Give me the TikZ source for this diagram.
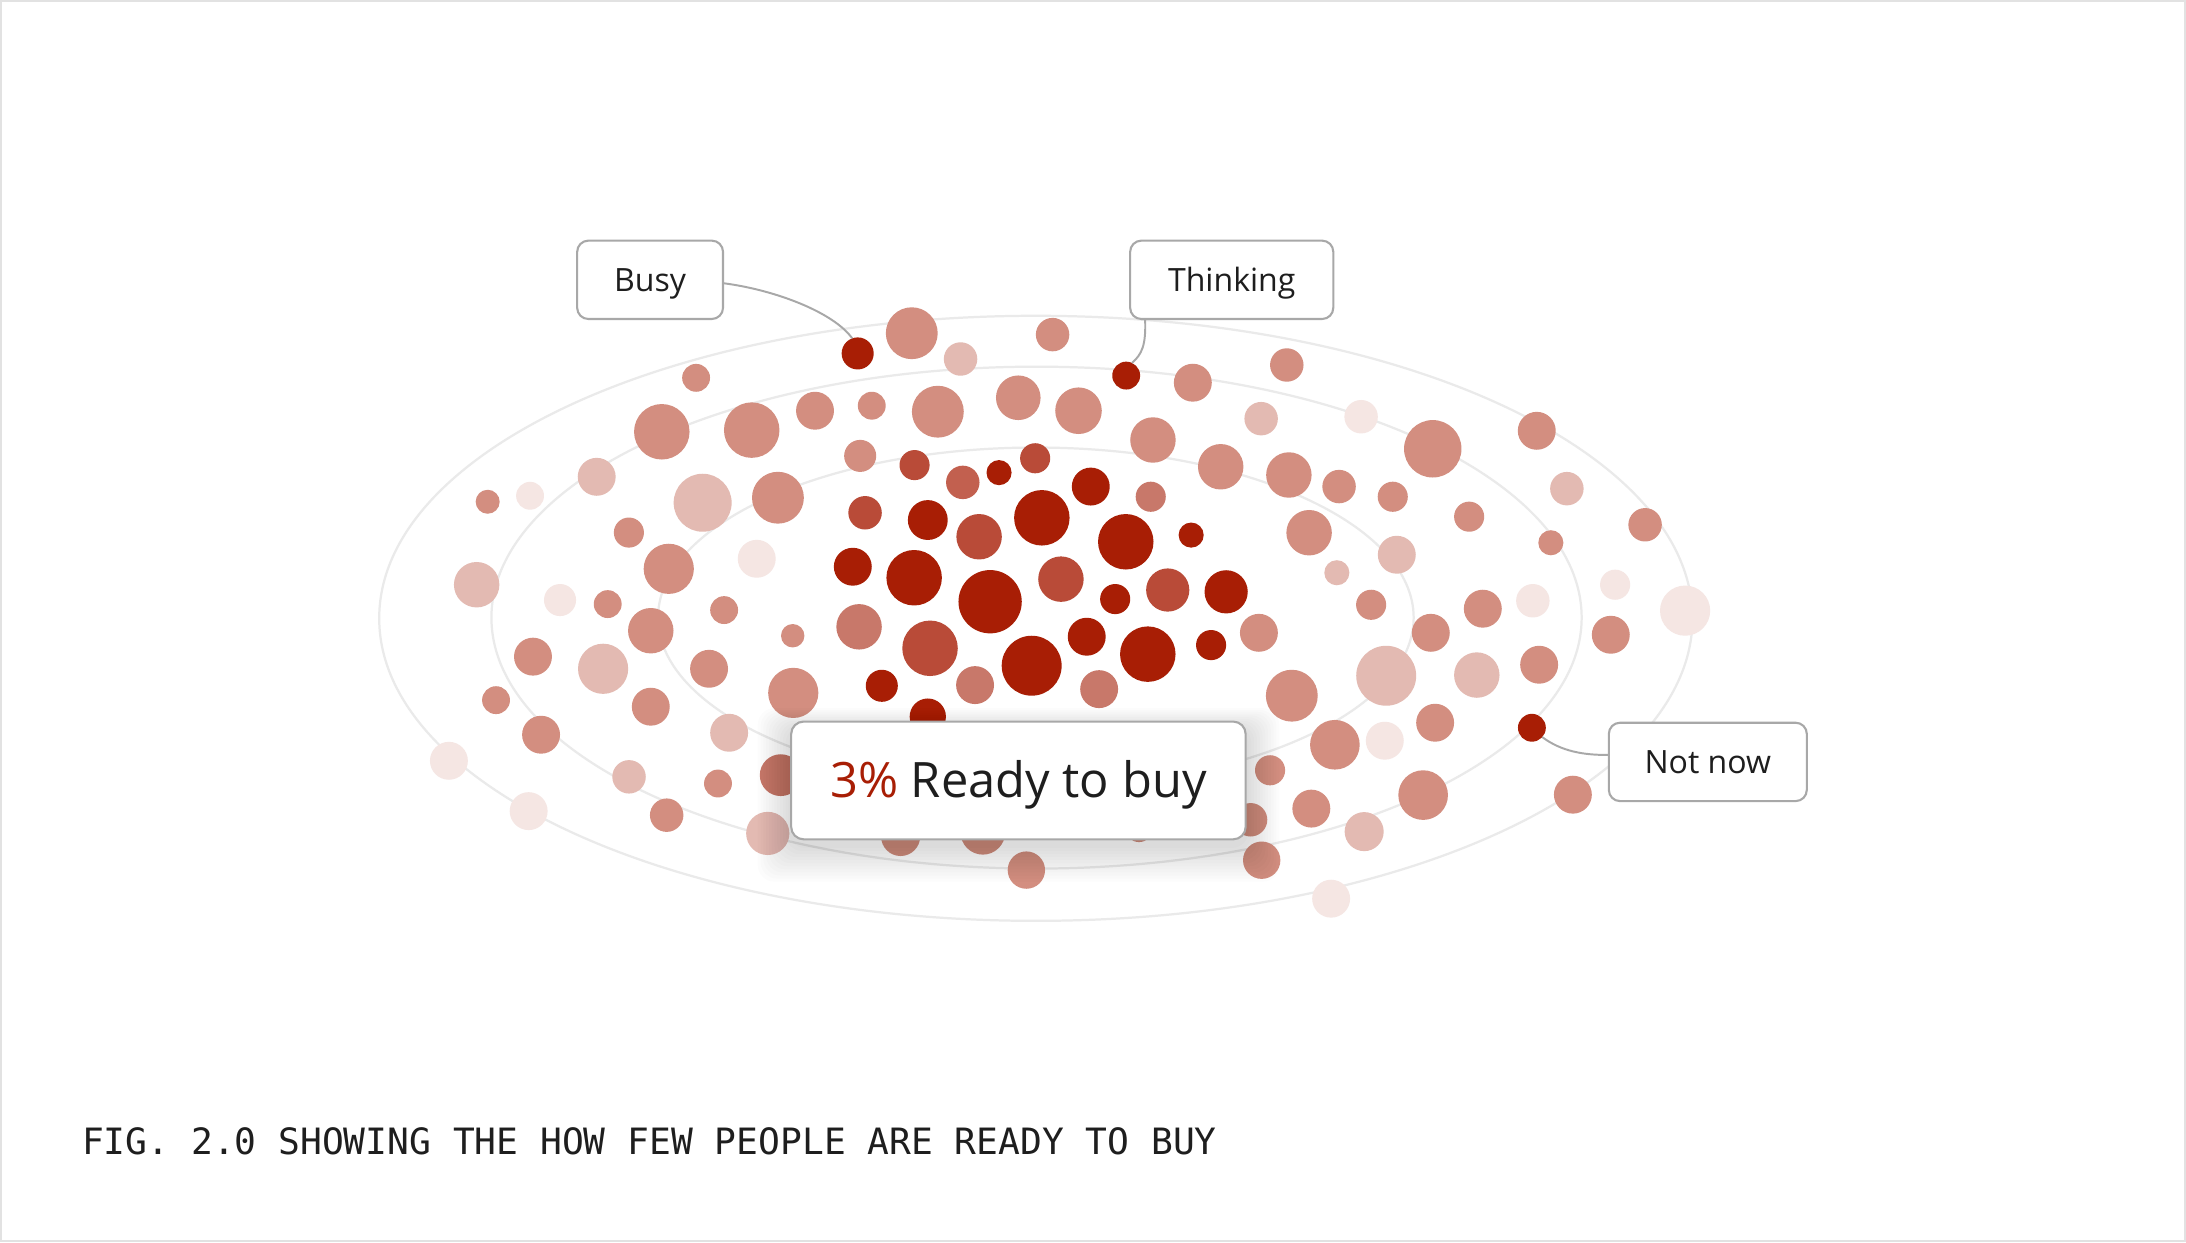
\documentclass[tikz,border=0pt]{standalone}
\usepackage{fontspec}
\newfontfamily\lblfont{Open Sans}
\newfontfamily\capfont{DejaVu Sans Mono}
\usetikzlibrary{calc}
\definecolor{cD}{HTML}{A81E05}
\definecolor{cM}{HTML}{B94B38}
\definecolor{cK}{HTML}{C2604F}
\definecolor{cN}{HTML}{C8786A}
\definecolor{cS}{HTML}{D38E80}
\definecolor{cL}{HTML}{E3BAB2}
\definecolor{cV}{HTML}{F5E6E3}
\definecolor{ring}{HTML}{EAEAEA}
\definecolor{edgegray}{HTML}{A8A8A8}
\definecolor{ink}{HTML}{1E1E1E}
\definecolor{framegray}{HTML}{E2E2E2}
\begin{document}
\begin{tikzpicture}[x=0.5pt,y=-0.5pt,
  ringline/.style={draw=ring,line width=0.8pt},
  labelbox/.style={draw=edgegray,line width=0.75pt,fill=white,rounded corners=4pt,
    minimum height=28.1pt,inner sep=0pt,font=\lblfont\fontsize{11.5}{13}\selectfont,
    text=ink,text height=8.2pt,text depth=0pt},
  mainbox/.style={draw=edgegray,line width=0.75pt,fill=white,rounded corners=4.5pt,
    minimum width=163pt,minimum height=42.25pt,inner sep=0pt,
    font=\lblfont\fontsize{17.5}{20}\selectfont,text=ink,text height=12.5pt,text depth=0pt},
  dotnode/.style={circle,inner sep=0pt,outer sep=0pt,fill=cD},
  connector/.style={draw=edgegray,line width=0.7pt}]
\useasboundingbox (0,0) rectangle (1568,891);
\fill[white] (0,0) rectangle (1568,891);
\draw[framegray,line width=0.8pt] (0.8,0.8) rectangle (1567.2,890.2);
% rings
\draw[ringline] (743,443.5) ellipse [x radius=471, y radius=217];
\draw[ringline] (743.5,443) ellipse [x radius=391, y radius=180];
\draw[ringline] (743,443) ellipse [x radius=271, y radius=122];
% dots
\foreach \px/\py/\pr/\pc in {
654/239/18.6/S, 689/257.5/12/L, 755/240/12/S, 855.6/274.5/13.6/S, 923/261.8/12/S,
499.3/271/10/S, 474.7/309.7/19.9/S, 539.2/308.5/19.9/S, 584.6/294.6/13.6/S, 625.3/291/10/S,
672.7/295.3/18.6/S, 730.4/285.3/16/S, 773.6/294.6/16.7/S, 827/315.6/16.3/S, 904.6/300.3/12/L,
976.3/298.9/12/V, 1027.7/321.9/20.6/S, 1102.3/309/13.6/S, 1123.9/350.5/12/L, 1180/376.4/12/S,
1112.4/389.3/9/S, 1053.8/370.6/10.8/S, 999/356.3/10.8/S, 960.5/349/12/S, 924.5/340.7/16.3/S,
875.6/334.8/16.3/S, 825.4/356.3/10.8/N, 854.4/383.8/9/D, 807.5/388.6/19.9/D, 782.4/349/13.6/D,
742.5/328.7/10.8/M, 716.6/339/9/D, 690.6/346/12/K, 656/333.6/10.8/M, 617/327/11.5/S,
620.5/367.8/12/M, 665.5/373/14.3/D, 702.3/385/16.3/M, 747.3/371.4/19.9/D, 611.7/406.5/13.6/D,
655.7/414.4/19.9/D, 710.2/431.6/22.7/D, 761/415.4/16.3/M, 799.9/429.7/10.8/D, 837.6/423.2/15.5/M,
879.5/424.5/15.5/D, 568.6/456/8.4/S, 616.2/449.6/16.3/N, 667.1/465/19.9/M, 740/477.5/21.5/D,
779.5/456.7/13.6/D, 823.3/469.2/19.9/D, 868.7/462.7/10.8/D, 903/453.9/13.6/S, 632.5/491.9/11.5/D,
699.4/491.4/13.6/N, 788.4/494.3/13.6/N, 665.5/514/13/D, 569/497/18/S, 519.4/437.6/10/S,
542.8/400.8/13.6/V, 558/357/18.6/S, 504/360.6/20.8/L, 479.7/408/18/S, 451.1/382/10.8/S,
428/342/13.6/L, 380.2/355.6/10/V, 349.8/359.9/8.6/S, 341.9/419.4/16.3/L, 401.7/430.4/11.5/V,
435.9/433.3/10/S, 466.8/452.4/16.3/S, 382.3/471/13.6/S, 432.6/479.7/18/L, 508.6/479.7/13.6/S,
355.8/502.2/10/S, 466.8/506.9/13.6/S, 388.1/527/13.6/S, 523/525.6/13.6/L, 322/545.7/13.6/V,
451.2/557.2/12/L, 515/562/10/S, 560/556/15/N, 379.2/581.8/13.6/V, 478.2/584.7/12/S,
550.7/597.8/15.5/L, 646/600/14/S, 705/597/16/S, 736.2/624.1/13.4/S, 817/594/10/S,
897/588/12/S, 905/617/13.4/S, 940.6/580/13.6/S, 978.5/596.5/14/L, 954.8/644.6/13.6/V,
1020.8/570.3/17.8/S, 911/552.5/10.8/S, 957.5/534.2/17.8/S, 993.3/531.3/13.6/V, 1029.4/518.4/13.6/S,
1128.2/570/13.6/S, 926.6/499/18.6/S, 994.3/484.7/21.5/L, 1059.3/484.2/16.3/L, 1104/476.8/13.6/S,
1026.3/453.9/13.6/S, 983.5/433.8/10.8/S, 1063.6/436.6/13.6/S, 1099.5/430.9/12/V, 1155.4/455.3/13.6/S,
1158.5/419.4/10.8/V, 1208.7/438/18/V, 1001.9/397.9/13.6/L, 958.9/410.8/9/L, 939/382.1/16.3/S}
  {\fill[c\pc] (\px,\py) circle (\pr);}
% highlighted dots
\node[dotnode,minimum size=11.5pt] (busydot) at (615.2,253.5) {};
\node[dotnode,minimum size=10pt] (thinkdot) at (807.8,269.4) {};
\node[dotnode,minimum size=10pt] (nowdot) at (1098.8,522) {};
% labels
\node[labelbox,minimum width=52.3pt] (busy) at (466.3,200.7) {Busy};
\node[labelbox,minimum width=72.85pt] (thinking) at (883.5,200.7) {Thinking};
\node[labelbox,minimum width=71pt] (notnow) at (1225,546.5) {Not now};
% connectors
\draw[connector] ($(busy.east)+(0,2.5)$) .. controls (556,208) and (598,224) .. (busydot.110);
\draw[connector] ($(thinking.south west)+(11.5,0)$) .. controls (822,248) and (819,254) .. (thinkdot.65);
\draw[connector] (nowdot.-42) .. controls (1120,539) and (1136,541.6) .. ($(notnow.west)+(0,-5)$);
% soft shadow of the main box
\foreach \i in {1,...,12}
  {\fill[black,opacity=0.011,rounded corners=6pt] (567.5-2*\i,602+4+2.2*\i) rectangle (893.6+2*\i,517.5+6-1.3*\i);}
\node[mainbox] (ready) at (730.5,559.8) {\textcolor{cD}{3\%} Ready to buy};
% caption
\node[anchor=base west,inner sep=0pt,font=\capfont\fontsize{13}{15}\selectfont,text=ink] (caption) at (58.5,828)
  {FIG. 2.0 SHOWING THE HOW FEW PEOPLE ARE READY TO BUY};
\end{tikzpicture}
\end{document}
